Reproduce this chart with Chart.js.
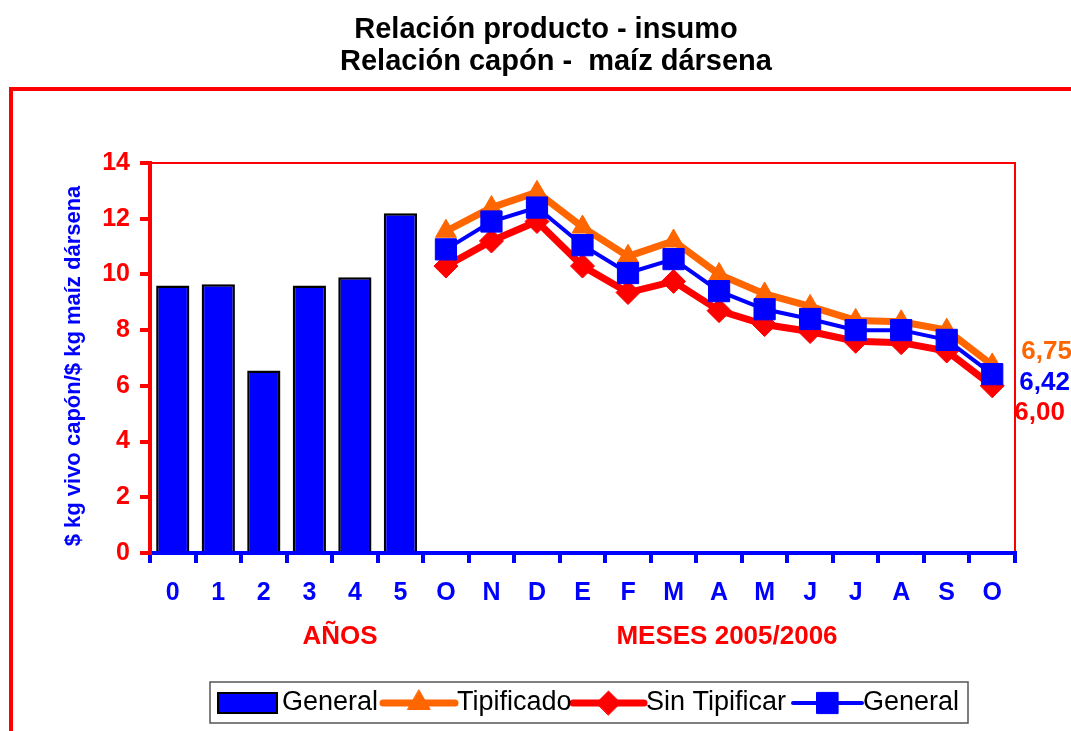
<!DOCTYPE html>
<html>
<head>
<meta charset="utf-8">
<script src="https://cdn.jsdelivr.net/npm/chart.js@4/dist/chart.umd.min.js"></script>
<style>
  html, body { margin: 0; padding: 0; background: #fff; }
  canvas { display: block; }
</style>
</head>
<body>
<canvas id="relacionChart" width="1071" height="731"></canvas>
<script>
const categorias = ['0', '1', '2', '3', '4', '5', 'O', 'N', 'D', 'E', 'F', 'M', 'A', 'M', 'J', 'J', 'A', 'S', 'O'];
const anios = [9.6, 9.65, 6.55, 9.6, 9.9, 12.2];
const tipificado = [11.55, 12.4, 12.95, 11.7, 10.65, 11.2, 10.0, 9.3, 8.85, 8.35, 8.3, 8.0, 6.75];
const sinTipificar = [10.3, 11.2, 11.9, 10.3, 9.35, 9.75, 8.7, 8.2, 7.95, 7.6, 7.55, 7.25, 6.0];
const general = [10.9, 11.9, 12.4, 11.05, 10.05, 10.55, 9.4, 8.75, 8.4, 8.0, 8.0, 7.65, 6.42];
const etiquetasFinales = ['6,75', '6,00', '6,42'];

const AZUL = '#0000ff';
const ROJO = '#ff0000';
const NARANJA = '#ff6600';
const FONT = "'Liberation Sans', Arial, sans-serif";

const huecosMeses = Array(tipificado.length).fill(null);
const huecosAnios = Array(anios.length).fill(null);

// titulos, marco, etiquetas de grupo y leyenda
const decoracion = {
    id: 'decoracion',
    beforeDraw(chart) {
        const c = chart.ctx;
        const a = chart.chartArea;
        c.save();
        c.strokeStyle = ROJO;
        c.lineWidth = 4;
        c.beginPath();
        c.moveTo(11, 731);
        c.lineTo(11, 89);
        c.lineTo(1071, 89);
        c.stroke();

        c.lineWidth = 2;
        c.beginPath();
        c.moveTo(a.left, a.top);
        c.lineTo(a.right, a.top);
        c.lineTo(a.right, a.bottom);
        c.stroke();
        c.restore();
    },
    afterDraw(chart) {
        const c = chart.ctx;
        c.save();
        c.fillStyle = '#000';
        c.textAlign = 'center';
        c.textBaseline = 'middle';
        c.font = 'bold 29px ' + FONT;
        c.fillText('Relación producto - insumo', 546, 30);
        c.fillText('Relación capón -  maíz dársena', 556, 62);

        c.fillStyle = AZUL;
        c.font = 'bold 22px ' + FONT;
        c.translate(74, 366);
        c.rotate(-Math.PI / 2);
        c.fillText('$ kg vivo capón/$ kg maíz dársena', 0, 0);
        c.setTransform(1, 0, 0, 1, 0, 0);

        c.fillStyle = ROJO;
        c.font = 'bold 26px ' + FONT;
        c.fillText('AÑOS', 340, 637);
        c.fillText('MESES 2005/2006', 727, 637);

        // valores del ultimo mes
        const x = chart.scales.x;
        const y = chart.scales.y;
        const ult = categorias.length - 1;
        c.textAlign = 'left';
        c.font = 'bold 26px ' + FONT;
        c.fillStyle = NARANJA;
        c.fillText(etiquetasFinales[0], x.getPixelForValue(ult) + 29, y.getPixelForValue(tipificado[tipificado.length - 1]) - 13);
        c.fillStyle = AZUL;
        c.fillText(etiquetasFinales[2], x.getPixelForValue(ult) + 27, y.getPixelForValue(general[general.length - 1]) + 9);
        c.fillStyle = ROJO;
        c.fillText(etiquetasFinales[1], x.getPixelForValue(ult) + 22, y.getPixelForValue(sinTipificar[sinTipificar.length - 1]) + 27);

        // leyenda
        c.strokeStyle = '#555';
        c.lineWidth = 1.5;
        c.strokeRect(210, 682, 758, 41);
        const cy = 703;
        c.fillStyle = AZUL;
        c.fillRect(218, 693, 59, 20);
        c.strokeStyle = '#000';
        c.lineWidth = 2;
        c.strokeRect(218, 693, 59, 20);

        const muestras = [
            { x0: 383, x1: 455, color: NARANJA, ancho: 7, estilo: 'triangle', r: 13 },
            { x0: 573, x1: 644, color: ROJO, ancho: 7, estilo: 'rectRot', r: 12 },
            { x0: 793, x1: 862, color: AZUL, ancho: 4, estilo: 'rect', r: 15 }
        ];
        muestras.forEach(m => {
            c.strokeStyle = m.color;
            c.fillStyle = m.color;
            c.lineWidth = m.ancho;
            c.lineCap = 'round';
            c.beginPath();
            c.moveTo(m.x0, cy);
            c.lineTo(m.x1, cy);
            c.stroke();
            c.lineWidth = 1;
            Chart.helpers.drawPoint(c, { pointStyle: m.estilo, radius: m.r, rotation: 0, borderWidth: 1 }, (m.x0 + m.x1) / 2, cy);
        });

        c.fillStyle = '#000';
        c.font = '27px ' + FONT;
        c.textAlign = 'left';
        c.fillText('General', 282, cy);
        c.fillText('Tipificado', 457, cy);
        c.fillText('Sin Tipificar', 646, cy);
        c.fillText('General', 863, cy);
        c.restore();
    }
};

const ctx = document.getElementById('relacionChart').getContext('2d');

const relacionChart = new Chart(ctx, {
    type: 'bar',
    data: {
        labels: categorias,
        datasets: [{
            type: 'bar',
            label: 'General',
            data: anios.concat(huecosMeses),
            backgroundColor: AZUL,
            borderColor: '#000',
            borderWidth: 2.5,
            borderSkipped: 'bottom',
            barPercentage: 0.73,
            categoryPercentage: 1,
            order: 4
        }, {
            type: 'line',
            label: 'Tipificado',
            data: huecosAnios.concat(tipificado),
            borderColor: NARANJA,
            backgroundColor: NARANJA,
            borderWidth: 7,
            pointStyle: 'triangle',
            pointRadius: 12,
            pointBorderWidth: 1,
            tension: 0,
            order: 3
        }, {
            type: 'line',
            label: 'Sin Tipificar',
            data: huecosAnios.concat(sinTipificar),
            borderColor: ROJO,
            backgroundColor: ROJO,
            borderWidth: 7,
            pointStyle: 'rectRot',
            pointRadius: 12,
            pointBorderWidth: 1,
            tension: 0,
            order: 2
        }, {
            type: 'line',
            label: 'General',
            data: huecosAnios.concat(general),
            borderColor: AZUL,
            backgroundColor: AZUL,
            borderWidth: 4,
            pointStyle: 'rect',
            pointRadius: 15,
            pointBorderWidth: 1,
            tension: 0,
            order: 1
        }]
    },
    options: {
        responsive: false,
        animation: false,
        layout: { padding: { left: 0, top: 163, right: 56, bottom: 0 } },
        scales: {
            x: {
                offset: true,
                afterFit(scale) { scale.height = 178; },
                grid: {
                    offset: true,
                    drawOnChartArea: false,
                    color: AZUL,
                    lineWidth: 4,
                    tickLength: 10
                },
                border: { color: AZUL, width: 4 },
                ticks: {
                    color: AZUL,
                    padding: 15,
                    maxRotation: 0,
                    autoSkip: false,
                    font: { family: FONT, size: 25, weight: 'bold' }
                }
            },
            y: {
                min: 0,
                max: 14,
                afterFit(scale) { scale.width = 150; },
                grid: {
                    drawOnChartArea: false,
                    color: ROJO,
                    lineWidth: 4,
                    tickLength: 10
                },
                border: { color: ROJO, width: 4 },
                ticks: {
                    stepSize: 2,
                    color: ROJO,
                    padding: 10,
                    font: { family: FONT, size: 25, weight: 'bold' }
                }
            }
        },
        plugins: {
            legend: { display: false },
            title: { display: false },
            tooltip: { enabled: false }
        }
    },
    plugins: [decoracion]
});
</script>
</body>
</html>
